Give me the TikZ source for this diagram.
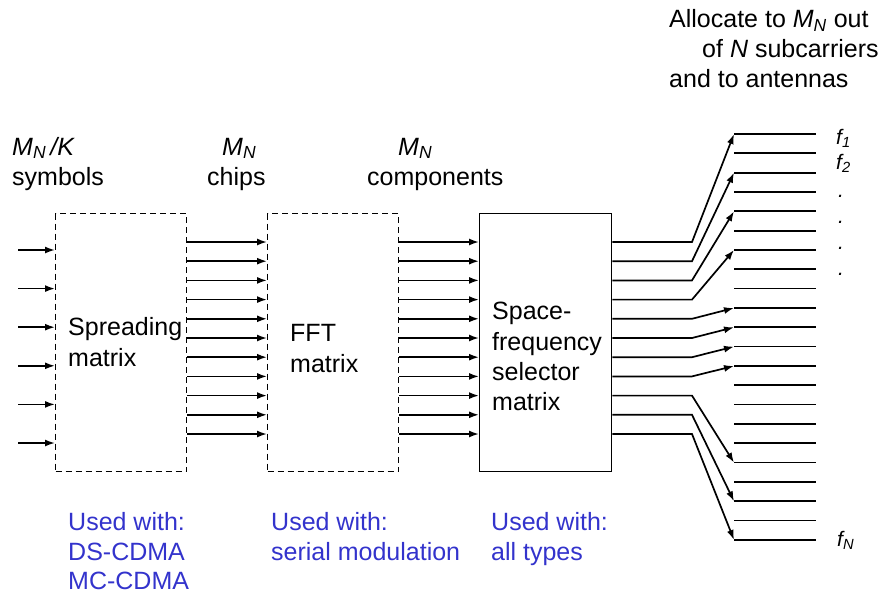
\documentclass[tikz,border=0pt]{standalone}
\usepackage{fontspec}
\setmainfont{Liberation Sans}
\usetikzlibrary{arrows.meta}
\definecolor{usedblue}{RGB}{51,51,204}
\newcommand{\MyMN}{\textit{M}\textsubscript{\textit{N}}}
\begin{document}
\begin{tikzpicture}[x=1pt,y=-1pt,
  txt/.style={anchor=base west, inner sep=0pt, font=\fontsize{25}{30}\selectfont},
  bluetxt/.style={txt, text=usedblue},
  flab/.style={anchor=base west, inner sep=0pt, font=\fontsize{21}{25}\selectfont\itshape},
  boxbase/.style={line width=1.4pt, minimum height=258pt, anchor=north west, inner sep=0pt},
  dbox/.style={boxbase, draw, dash pattern=on 6pt off 4pt, minimum width=131pt},
  sbox/.style={boxbase, draw, minimum width=132pt},
  arr/.style={line width=1.7pt, -{Latex[length=10pt,width=7pt]}},
  ln/.style={line width=1.7pt},
]
\useasboundingbox (0,0) rectangle (883,594);

% boxes
\node[dbox] (sp) at (55,213) {};
\node[dbox] (fft) at (267,213) {};
\node[sbox] (sel) at (479,213) {};

% box texts
\node[txt] (sp1) at (68,335) {Spreading};
\node[txt] (sp2) at (68,366) {matrix};
\node[txt] (ff1) at (290,341) {FFT};
\node[txt] (ff2) at (290,372) {matrix};
\node[txt] (se1) at (492,319) {Space-};
\node[txt] (se2) at (492,350) {frequency};
\node[txt] (se3) at (492,380) {selector};
\node[txt] (se4) at (492,410) {matrix};

% top labels
\node[txt] (t1a) at (12,155) {\MyMN\,\textit{/K}};
\node[txt] (t1b) at (12,185) {symbols};
\node[txt] (t2a) at (222,155) {\MyMN};
\node[txt] (t2b) at (207,185) {chips};
\node[txt] (t3a) at (398,155) {\MyMN};
\node[txt] (t3b) at (367,185) {components};
\node[txt] (a1) at (669,28) {Allocate to \MyMN\ out};
\node[txt] (a2) at (702,58) {of \textit{N} subcarriers};
\node[txt] (a3) at (669,87) {and to antennas};

% blue labels
\node[bluetxt] (u1a) at (68,530) {Used with:};
\node[bluetxt] (u1b) at (68,560) {DS-CDMA};
\node[bluetxt] (u1c) at (68,589) {MC-CDMA};
\node[bluetxt] (u2a) at (271,530) {Used with:};
\node[bluetxt] (u2b) at (271,560) {serial modulation};
\node[bluetxt] (u3a) at (491,530) {Used with:};
\node[bluetxt] (u3b) at (491,560) {all types};

% input arrows
\foreach \i in {0,...,5} {
  \coordinate (in\i) at (18,250+38.6*\i);
  \draw[arr] (in\i) -- (in\i -| sp.west);
}

% chips and components arrows
\foreach \i in {0,...,10} {
  \coordinate (c\i) at (0,242+19.2*\i);
  \draw[arr] (c\i -| sp.east) -- (c\i -| fft.west);
  \draw[arr] (c\i -| fft.east) -- (c\i -| sel.west);
}

% subcarrier lines
\foreach \j in {0,...,21} {
  \coordinate (L\j) at (734,134+19.33*\j);
  \coordinate (R\j) at (816,134+19.33*\j);
  \draw[ln] (L\j) -- (R\j);
}

% allocation arrows
\foreach \i/\j in {0/0,1/2,2/4,3/6,4/9,5/10,6/11,7/12,8/17,9/19,10/21} {
  \coordinate (b\i) at (692,242+19.2*\i);
  \draw[arr] (c\i -| sel.east) -- (b\i) -- (L\j);
}

% subcarrier labels
\node[flab] (f1) at (836,144) {f\textsubscript{1}};
\node[flab] (f2) at (836,169) {f\textsubscript{2}};
\node[flab] (d1) at (838,197) {.};
\node[flab] (d2) at (838,223) {.};
\node[flab] (d3) at (838,249) {.};
\node[flab] (d4) at (838,275) {.};
\node[flab] (fN) at (837,546) {f\textsubscript{N}};
\end{tikzpicture}
\end{document}
